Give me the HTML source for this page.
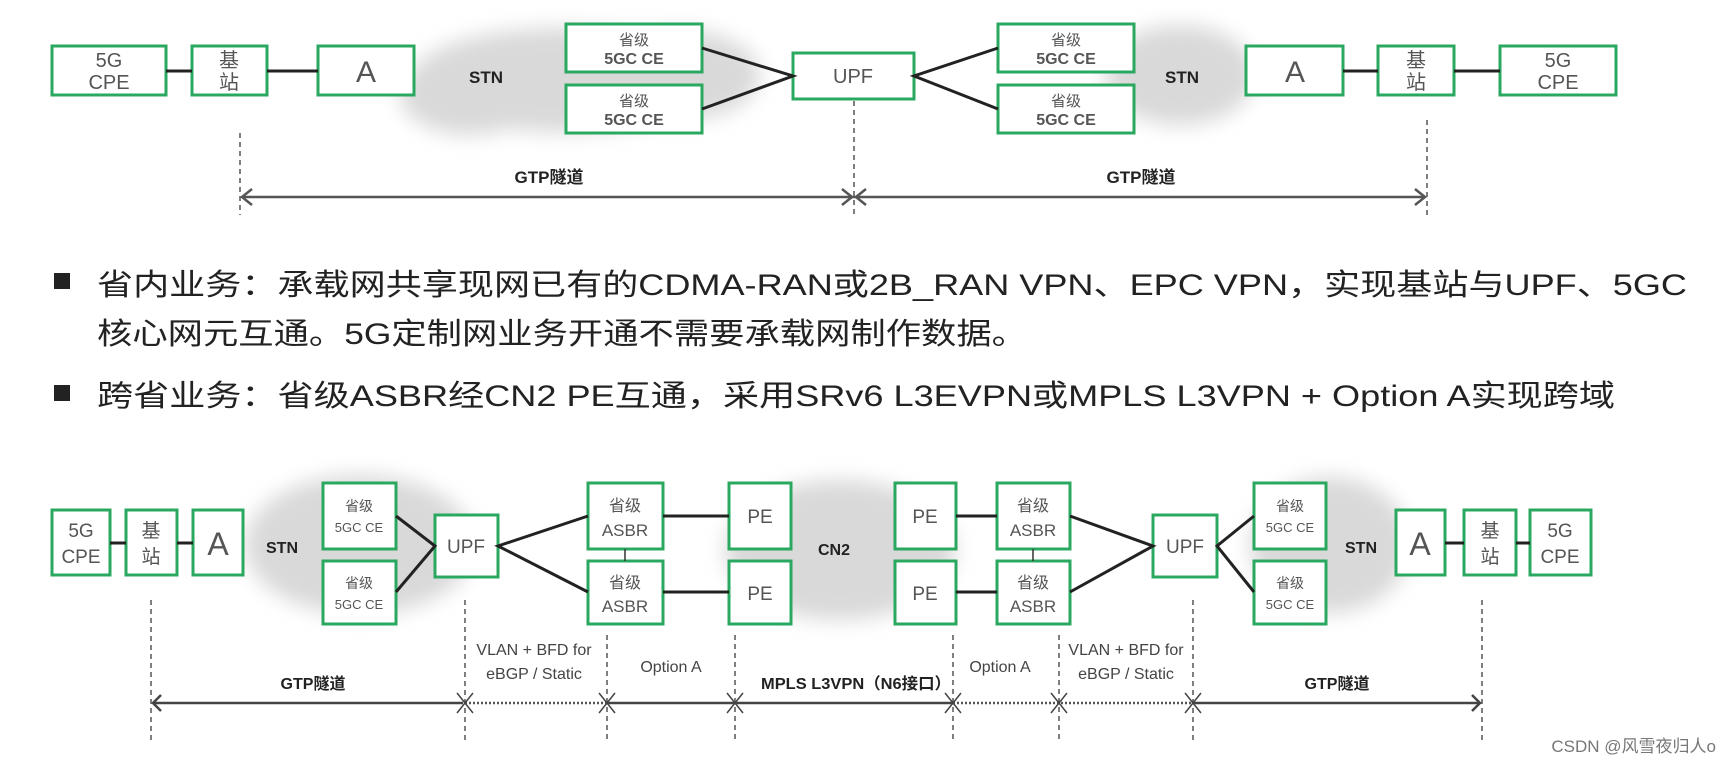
<!DOCTYPE html>
<html><head><meta charset="utf-8"><style>
html,body{margin:0;padding:0;background:#fff;}
svg{display:block;}
text{font-family:"Liberation Sans","Noto Sans CJK SC",sans-serif;}
</style></head><body>
<svg width="1733" height="768" viewBox="0 0 1733 768" xmlns="http://www.w3.org/2000/svg">
<defs>
<filter id="blur" x="-20%" y="-20%" width="140%" height="140%"><feGaussianBlur stdDeviation="10"/></filter>
</defs>
<g fill="#d9d9d9" filter="url(#blur)">
<ellipse cx="560" cy="80" rx="150" ry="52"/>
<ellipse cx="470" cy="95" rx="70" ry="40"/>
<ellipse cx="680" cy="75" rx="80" ry="45"/>
<ellipse cx="1180" cy="75" rx="75" ry="50"/>
<ellipse cx="360" cy="545" rx="115" ry="70"/>
<ellipse cx="840" cy="550" rx="115" ry="70"/>
<ellipse cx="1330" cy="545" rx="80" ry="68"/>
</g>
<g fill="#fff" stroke="#2aa860" stroke-width="3">
<rect x="52" y="46" width="114" height="49"/>
<rect x="192" y="46" width="75" height="49"/>
<rect x="318" y="46" width="96" height="49"/>
<rect x="566" y="24" width="136" height="48"/>
<rect x="566" y="85" width="136" height="48"/>
<rect x="793" y="53" width="121" height="46"/>
<rect x="998" y="24" width="136" height="48"/>
<rect x="998" y="85" width="136" height="48"/>
<rect x="1246" y="46" width="97" height="49"/>
<rect x="1378" y="46" width="76" height="49"/>
<rect x="1500" y="46" width="116" height="49"/>
<rect x="52" y="510" width="58" height="65"/>
<rect x="126" y="510" width="51" height="65"/>
<rect x="193" y="510" width="50" height="65"/>
<rect x="323" y="483" width="73" height="66"/>
<rect x="323" y="561" width="73" height="63"/>
<rect x="435" y="515" width="63" height="62"/>
<rect x="588" y="483" width="75" height="66"/>
<rect x="588" y="561" width="75" height="63"/>
<rect x="729" y="483" width="62" height="66"/>
<rect x="729" y="561" width="62" height="63"/>
<rect x="895" y="483" width="61" height="66"/>
<rect x="895" y="561" width="61" height="63"/>
<rect x="997" y="483" width="73" height="66"/>
<rect x="997" y="561" width="73" height="63"/>
<rect x="1153" y="515" width="64" height="62"/>
<rect x="1254" y="483" width="72" height="66"/>
<rect x="1254" y="561" width="72" height="63"/>
<rect x="1396" y="510" width="49" height="65"/>
<rect x="1464" y="510" width="52" height="65"/>
<rect x="1530" y="510" width="61" height="65"/>
</g>
<g stroke="#222" stroke-width="3" fill="none">
<line x1="166" y1="71" x2="192" y2="71"/><line x1="267" y1="71" x2="318" y2="71"/>
<polyline points="702,48 793,76 702,109"/>
<polyline points="998,48 914,76 998,109"/>
<line x1="1343" y1="71" x2="1378" y2="71"/><line x1="1454" y1="71" x2="1500" y2="71"/>
<line x1="110" y1="543" x2="126" y2="543"/><line x1="177" y1="543" x2="193" y2="543"/>
<polyline points="396,516 435,546 396,592"/>
<polyline points="588,516 498,546 588,592"/>
<line x1="663" y1="516" x2="729" y2="516"/><line x1="663" y1="592" x2="729" y2="592"/>
<line x1="956" y1="516" x2="997" y2="516"/><line x1="956" y1="592" x2="997" y2="592"/>
<polyline points="1070,516 1153,546 1070,592"/>
<polyline points="1254,516 1217,546 1254,592"/>
<line x1="1445" y1="543" x2="1464" y2="543"/><line x1="1516" y1="543" x2="1530" y2="543"/>
</g>
<g stroke="#333" stroke-width="1.5">
<line x1="625" y1="549" x2="625" y2="561"/><line x1="1033" y1="549" x2="1033" y2="561"/>
</g>
<g stroke="#555" stroke-width="1.5" stroke-dasharray="5,4">
<line x1="240" y1="133" x2="240" y2="215"/><line x1="854" y1="101" x2="854" y2="215"/><line x1="1427" y1="120" x2="1427" y2="215"/>
<line x1="151" y1="600" x2="151" y2="740"/><line x1="465" y1="600" x2="465" y2="740"/>
<line x1="607" y1="635" x2="607" y2="740"/><line x1="735" y1="635" x2="735" y2="740"/>
<line x1="953" y1="635" x2="953" y2="740"/><line x1="1059" y1="635" x2="1059" y2="740"/>
<line x1="1193" y1="600" x2="1193" y2="740"/><line x1="1482" y1="600" x2="1482" y2="740"/>
</g>
<g stroke="#555" stroke-width="2.5" fill="none">
<line x1="242" y1="197" x2="1425" y2="197"/>
<polyline points="252,189 242,197 252,205"/>
<polyline points="842,189 852,197 842,205"/>
<polyline points="866,189 856,197 866,205"/>
<polyline points="1415,189 1425,197 1415,205"/>
</g>
<g stroke="#444" stroke-width="2.5" fill="none">
<line x1="153" y1="703" x2="463" y2="703"/>
<polyline points="161,695 153,703 161,711"/>
<line x1="607" y1="703" x2="953" y2="703"/>
<line x1="1193" y1="703" x2="1480" y2="703"/>
<polyline points="1472,695 1480,703 1472,711"/>
</g>
<g stroke="#555" stroke-width="2.5" stroke-dasharray="2,2">
<line x1="465" y1="703" x2="607" y2="703"/><line x1="953" y1="703" x2="1193" y2="703"/>
</g>
<g stroke="#444" stroke-width="1.5">
<path d="M457 693 L473 713 M473 693 L457 713"/>
<path d="M599 693 L615 713 M615 693 L599 713"/>
<path d="M727 693 L743 713 M743 693 L727 713"/>
<path d="M945 693 L961 713 M961 693 L945 713"/>
<path d="M1051 693 L1067 713 M1067 693 L1051 713"/>
<path d="M1185 693 L1201 713 M1201 693 L1185 713"/>
</g>
<g fill="#555" text-anchor="middle">
<text x="109" y="67" font-size="20">5G</text><text x="109" y="89" font-size="20">CPE</text>
<text x="229" y="67" font-size="20">基</text><text x="229" y="89" font-size="20">站</text>
<text x="366" y="82" font-size="30">A</text>
<text x="634" y="45" font-size="15">省级</text><text x="634" y="64" font-size="16" font-weight="bold">5GC CE</text>
<text x="634" y="106" font-size="15">省级</text><text x="634" y="125" font-size="16" font-weight="bold">5GC CE</text>
<text x="853" y="83" font-size="20">UPF</text>
<text x="1066" y="45" font-size="15">省级</text><text x="1066" y="64" font-size="16" font-weight="bold">5GC CE</text>
<text x="1066" y="106" font-size="15">省级</text><text x="1066" y="125" font-size="16" font-weight="bold">5GC CE</text>
<text x="1295" y="82" font-size="30">A</text>
<text x="1416" y="67" font-size="20">基</text><text x="1416" y="89" font-size="20">站</text>
<text x="1558" y="67" font-size="20">5G</text><text x="1558" y="89" font-size="20">CPE</text>
</g>
<g fill="#222" font-weight="bold" text-anchor="middle" font-size="17">
<text x="486" y="83">STN</text><text x="1182" y="83">STN</text>
<text x="549" y="183">GTP隧道</text><text x="1141" y="183">GTP隧道</text>
</g>
<rect x="54" y="273" width="16" height="16" fill="#222"/>
<rect x="54" y="385" width="16" height="16" fill="#222"/>
<g fill="#222" font-size="30">
<text x="97" y="295" textLength="1590" lengthAdjust="spacingAndGlyphs">省内业务：承载网共享现网已有的CDMA-RAN或2B_RAN VPN、EPC VPN，实现基站与UPF、5GC</text>
<text x="97" y="344" textLength="930" lengthAdjust="spacingAndGlyphs">核心网元互通。5G定制网业务开通不需要承载网制作数据。</text>
<text x="97" y="406" textLength="1518" lengthAdjust="spacingAndGlyphs">跨省业务：省级ASBR经CN2 PE互通，采用SRv6 L3EVPN或MPLS L3VPN + Option A实现跨域</text>
</g>
<g fill="#555" text-anchor="middle">
<text x="81" y="537" font-size="19">5G</text><text x="81" y="563" font-size="19">CPE</text>
<text x="151" y="537" font-size="19">基</text><text x="151" y="563" font-size="19">站</text>
<text x="218" y="555" font-size="32">A</text>
<text x="359" y="511" font-size="14">省级</text><text x="359" y="532" font-size="13">5GC CE</text>
<text x="359" y="588" font-size="14">省级</text><text x="359" y="609" font-size="13">5GC CE</text>
<text x="466" y="553" font-size="19">UPF</text>
<text x="625" y="511" font-size="16">省级</text><text x="625" y="536" font-size="17">ASBR</text>
<text x="625" y="588" font-size="16">省级</text><text x="625" y="612" font-size="17">ASBR</text>
<text x="760" y="523" font-size="19">PE</text><text x="760" y="600" font-size="19">PE</text>
<text x="925" y="523" font-size="19">PE</text><text x="925" y="600" font-size="19">PE</text>
<text x="1033" y="511" font-size="16">省级</text><text x="1033" y="536" font-size="17">ASBR</text>
<text x="1033" y="588" font-size="16">省级</text><text x="1033" y="612" font-size="17">ASBR</text>
<text x="1185" y="553" font-size="19">UPF</text>
<text x="1290" y="511" font-size="14">省级</text><text x="1290" y="532" font-size="13">5GC CE</text>
<text x="1290" y="588" font-size="14">省级</text><text x="1290" y="609" font-size="13">5GC CE</text>
<text x="1420" y="555" font-size="32">A</text>
<text x="1490" y="537" font-size="19">基</text><text x="1490" y="563" font-size="19">站</text>
<text x="1560" y="537" font-size="19">5G</text><text x="1560" y="563" font-size="19">CPE</text>
</g>
<g fill="#222" font-weight="bold" text-anchor="middle" font-size="16">
<text x="282" y="553">STN</text><text x="834" y="555">CN2</text><text x="1361" y="553">STN</text>
<text x="313" y="689">GTP隧道</text>
<text x="856" y="689" textLength="190" lengthAdjust="spacingAndGlyphs">MPLS L3VPN（N6接口）</text>
<text x="1337" y="689">GTP隧道</text>
</g>
<g fill="#444" text-anchor="middle" font-size="16">
<text x="534" y="655">VLAN + BFD for</text><text x="534" y="679">eBGP / Static</text>
<text x="671" y="672">Option A</text><text x="1000" y="672">Option A</text>
<text x="1126" y="655">VLAN + BFD for</text><text x="1126" y="679">eBGP / Static</text>
</g>
<text x="1716" y="752" text-anchor="end" fill="#777" font-size="17">CSDN @风雪夜归人o</text>
</svg>
</body></html>
